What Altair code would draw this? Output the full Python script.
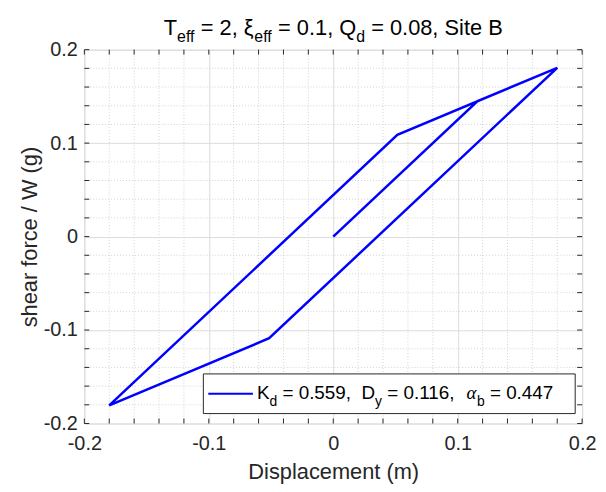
import re
import altair as alt
import pandas as pd

# ---------------- data ----------------
disp = [0.0, 0.116, 0.180, -0.0515, -0.180, 0.0515, 0.180]
force = [0.0, 0.145, 0.1806, -0.1088, -0.1806, 0.1088, 0.1806]

major_ticks = [-0.2, -0.1, 0.0, 0.1, 0.2]
minor_ticks = [-0.2, -0.18, -0.16, -0.14, -0.12, -0.1, -0.08, -0.06, -0.04, -0.02,
               0.0, 0.02, 0.04, 0.06, 0.08, 0.1, 0.12, 0.14, 0.16, 0.18, 0.2]
minor_grid = [v for v in minor_ticks if v not in major_ticks]

x_title = "Displacement (m)"
y_title = "shear force / W (g)"
# runs: (text, kind) kind 0 = normal, 1 = subscript, 2 = greek italic
title_runs = [("T", 0), ("eff", 1), (" = 2, ", 0), ("\u03be", 0), ("eff", 1),
              (" = 0.1, Q", 0), ("d", 1), (" = 0.08, Site B", 0)]
legend_runs = [("K", 0), ("d", 1), (" = 0.559,  D", 0), ("y", 1), (" = 0.116,  ", 0),
               ("\u03b1", 2), ("b", 1), (" = 0.447", 0)]

# ---------------- layout ----------------
W, H = 502, 377
FONT = "Liberation Sans"
DARK = "#262626"
BLUE = "#0000ff"
TICK = 5

AW = {'T': 611, 'e': 556, 'f': 278, ' ': 278, '=': 584, '2': 556, ',': 278, '\u03be': 480,
      '0': 556, '.': 278, '1': 556, 'Q': 778, 'd': 556, '8': 556, 'S': 667, 'i': 222,
      't': 278, 'B': 667, 'K': 667, '5': 556, '9': 556, 'D': 722, 'y': 500, '6': 556,
      '\u03b1': 560, 'b': 556, '4': 556, '7': 556}


def tw(s, size):
    return sum(AW.get(c, 556) for c in s) / 1000.0 * size


def layout_runs(runs, x0, base, size, subsize, suboff, center=False):
    rows = []
    widths = []
    for txt, kind in runs:
        sz = subsize if kind == 1 else size
        widths.append(tw(txt, sz))
    total = sum(widths)
    x = x0 - total / 2 if center else x0
    for (txt, kind), w in zip(runs, widths):
        sz = subsize if kind == 1 else size
        y = base + (suboff if kind == 1 else 0)
        for m in re.finditer(r"\S+", txt):
            rows.append({"t": m.group(0), "x": x + tw(txt[:m.start()], sz), "y": y,
                         "s": sz, "k": kind})
        x += w
    return pd.DataFrame(rows)


title_df = layout_runs(title_runs, W / 2, -15, 22, 16, 7, center=True)
legend_df = layout_runs(legend_runs, 174, 352, 19, 14, 7)

xs = alt.Scale(domain=[-0.2, 0.2], nice=False, zero=False)
ys = alt.Scale(domain=[-0.2, 0.2], nice=False, zero=False)

label_expr = "(datum.value < 0 ? '-' : '') + format(abs(datum.value), '~g')"
axis_common = dict(values=major_ticks, grid=True, gridColor="#dcdcdc", gridWidth=1,
                   tickSize=0, domain=False, labelFont=FONT, labelFontSize=20,
                   labelColor=DARK, titleFont=FONT, titleFontSize=22, titleColor=DARK,
                   titleFontWeight="normal", labelExpr=label_expr, labelFlush=False)
x_axis = alt.Axis(labelPadding=10, titlePadding=8, **axis_common)
y_axis = alt.Axis(labelPadding=7, titlePadding=2, **axis_common)


def X(field):
    return alt.X(field, type="quantitative", scale=xs, title=x_title, axis=x_axis)


def Y(field):
    return alt.Y(field, type="quantitative", scale=ys, title=y_title, axis=y_axis)


curve = pd.DataFrame({"d": disp, "f": force, "i": list(range(len(disp)))})
gdf = pd.DataFrame({"v": minor_grid})
tdf = pd.DataFrame({"v": minor_ticks})
one = pd.DataFrame({"a": [0]})

grid_x = alt.Chart(gdf).mark_rule(color="#d2d2d2", strokeDash=[1, 2], strokeWidth=1).encode(
    x=X("v"))
grid_y = alt.Chart(gdf).mark_rule(color="#d2d2d2", strokeDash=[1, 2], strokeWidth=1).encode(
    y=Y("v"))

line = alt.Chart(curve).mark_line(color=BLUE, strokeWidth=2.5, strokeJoin="miter").encode(
    x=X("d"), y=Y("f"), order="i:Q")

tick_b = alt.Chart(tdf).mark_rule(color=DARK, strokeWidth=1).encode(
    x=X("v"), y=alt.value(H), y2=alt.value(H - TICK))
tick_t = alt.Chart(tdf).mark_rule(color=DARK, strokeWidth=1).encode(
    x=X("v"), y=alt.value(0), y2=alt.value(TICK))
tick_l = alt.Chart(tdf).mark_rule(color=DARK, strokeWidth=1).encode(
    y=Y("v"), x=alt.value(0), x2=alt.value(TICK))
tick_r = alt.Chart(tdf).mark_rule(color=DARK, strokeWidth=1).encode(
    y=Y("v"), x=alt.value(W), x2=alt.value(W - TICK))

leg_box = alt.Chart(one).mark_rect(fill="white", stroke=DARK, strokeWidth=1).encode(
    x=alt.value(120), x2=alt.value(495), y=alt.value(327), y2=alt.value(367))
leg_line = alt.Chart(one).mark_rule(color=BLUE, strokeWidth=2).encode(
    x=alt.value(125), x2=alt.value(170), y=alt.value(347))


def text_layer(df, color):
    base = alt.Chart(df)
    enc = dict(x=alt.X("x:Q", scale=None, axis=None), y=alt.Y("y:Q", scale=None, axis=None),
               size=alt.Size("s:Q", scale=None, legend=None), text="t:N")
    normal = base.transform_filter("datum.k != 2").mark_text(
        align="left", baseline="alphabetic", font=FONT, color=color).encode(**enc)
    greek = base.transform_filter("datum.k == 2").mark_text(
        align="left", baseline="alphabetic", font="Liberation Serif", fontStyle="italic",
        color=color).encode(**enc)
    return alt.layer(normal, greek)


title_txt = text_layer(title_df, "#000000")
legend_txt = text_layer(legend_df, "#000000")

chart = alt.layer(
    grid_x, grid_y, line, tick_b, tick_t, tick_l, tick_r,
    leg_box, leg_line, legend_txt, title_txt
).resolve_scale(x="shared", y="shared").properties(
    width=W, height=H,
    autosize=alt.AutoSizeParams(type="none"),
    padding={"left": 77, "top": 40, "right": 16, "bottom": 59},
).configure_view(stroke=DARK, strokeWidth=1.2).configure(background="white")

chart.save("out.html", embed_options={"renderer": "svg", "actions": False})
